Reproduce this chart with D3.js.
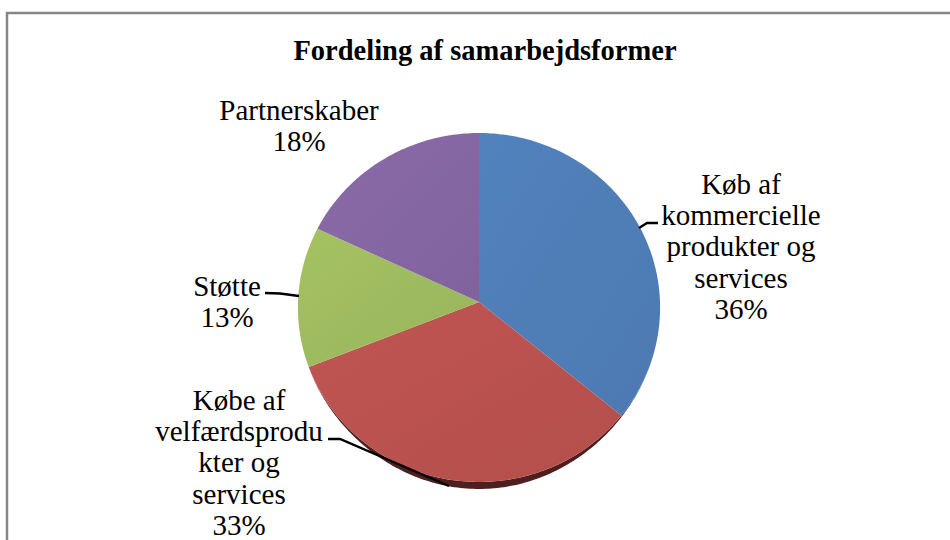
<!DOCTYPE html>
<html>
<head>
<meta charset="utf-8">
<script src="https://cdn.jsdelivr.net/npm/d3@7"></script>
<style>
  html, body { margin: 0; padding: 0; background: #fff; }
  text { font-family: "Liberation Serif", serif; fill: #000; }
</style>
</head>
<body>
<svg width="950" height="540"></svg>
<script>
// values
var categories = ['Køb af kommercielle produkter og services', 'Købe af velfærdsprodukter og services', 'Støtte', 'Partnerskaber'];
var shares = [36, 33, 13, 18];
var colors = ['#4f7db6', '#ba524f', '#9fbb5f', '#8567a3'];
var sideColors = ['#2f4d70', '#4f1f1f', '#5f7038', '#4d3c60'];

// how each label is broken into lines, the last line is the percentage
var labelLines = [
  ['Køb af', 'kommercielle', 'produkter og', 'services', '36%'],
  ['Købe af', 'velfærdsprodu', 'kter og', 'services', '33%'],
  ['Støtte', '13%'],
  ['Partnerskaber', '18%']
];
var labelCenters = [[741, 194], [239, 410], [227, 296], [299, 120]];

var svg = d3.select('svg');

var cx = 479, cy = 302, rx = 181, ry = 174.3, tilt = 0.0315, depth = 7;

// frame, only top and left are in the picture
svg.append('path')
  .attr('d', 'M7,540V13H950')
  .attr('fill', 'none')
  .attr('stroke', '#868686')
  .attr('stroke-width', 2.5);

// flat pie angles to a slightly tilted disc
var project = function(a) {
  var z = -Math.cos(a);
  var w = 1 - tilt * z;
  return [cx + rx * Math.sin(a) / w, cy + ry * z / w];
};

var arcAngles = function(d) {
  var n = Math.ceil((d.endAngle - d.startAngle) * 60);
  return d3.range(n + 1).map(function(i) {
    return d.startAngle + (d.endAngle - d.startAngle) * i / n;
  });
};

var slices = d3.pie().sort(null)(shares);
var line = d3.line();

var defs = svg.append('defs');
slices.forEach(function(d, i) {
  var grad = defs.append('linearGradient')
    .attr('id', 'g' + i)
    .attr('x1', '0').attr('y1', '0').attr('x2', '1').attr('y2', '1');
  grad.append('stop').attr('offset', '0').attr('stop-color', d3.rgb(colors[i]).brighter(0.1));
  grad.append('stop').attr('offset', '1').attr('stop-color', d3.rgb(colors[i]).darker(0.1));
});

// rim below the top face, thins out towards the sides
svg.selectAll('.side')
  .data(slices)
  .enter()
  .append('path')
  .attr('class', 'side')
  .attr('fill', function(d, i) { return sideColors[i]; })
  .attr('d', function(d) {
    var angles = arcAngles(d);
    var low = angles.map(function(a) {
      var p = project(a);
      var z = Math.max(0, -Math.cos(a));
      return [p[0], p[1] + depth * z * z * z];
    }).reverse();
    return line(angles.map(project).concat(low)) + 'Z';
  });

// top face
svg.selectAll('.slice')
  .data(slices)
  .enter()
  .append('path')
  .attr('class', 'slice')
  .attr('fill', function(d, i) { return 'url(#g' + i + ')'; })
  .attr('d', function(d) {
    return line([[cx, cy]].concat(arcAngles(d).map(project))) + 'Z';
  });

// leader lines
var leaders = [
  [[639, 228], [647, 223], [658, 223]],
  [[328, 439], [340, 439], [449, 486]],
  [[265, 293], [280, 293.5], [299, 296]]
];
svg.selectAll('.leader')
  .data(leaders)
  .enter()
  .append('path')
  .attr('class', 'leader')
  .attr('d', line)
  .attr('fill', 'none')
  .attr('stroke', '#000')
  .attr('stroke-width', 2.4);

// title
svg.append('text')
  .attr('x', 485)
  .attr('y', 60)
  .attr('text-anchor', 'middle')
  .attr('font-size', 28.5)
  .attr('font-weight', 'bold')
  .text('Fordeling af samarbejdsformer');

// labels
labelLines.forEach(function(lines, i) {
  var t = svg.append('text')
    .attr('text-anchor', 'middle')
    .attr('font-size', 29)
    .attr('data-name', categories[i]);
  lines.forEach(function(s, j) {
    t.append('tspan')
      .attr('x', labelCenters[i][0])
      .attr('y', labelCenters[i][1] + j * 31.2)
      .text(s);
  });
});
</script>
</body>
</html>
